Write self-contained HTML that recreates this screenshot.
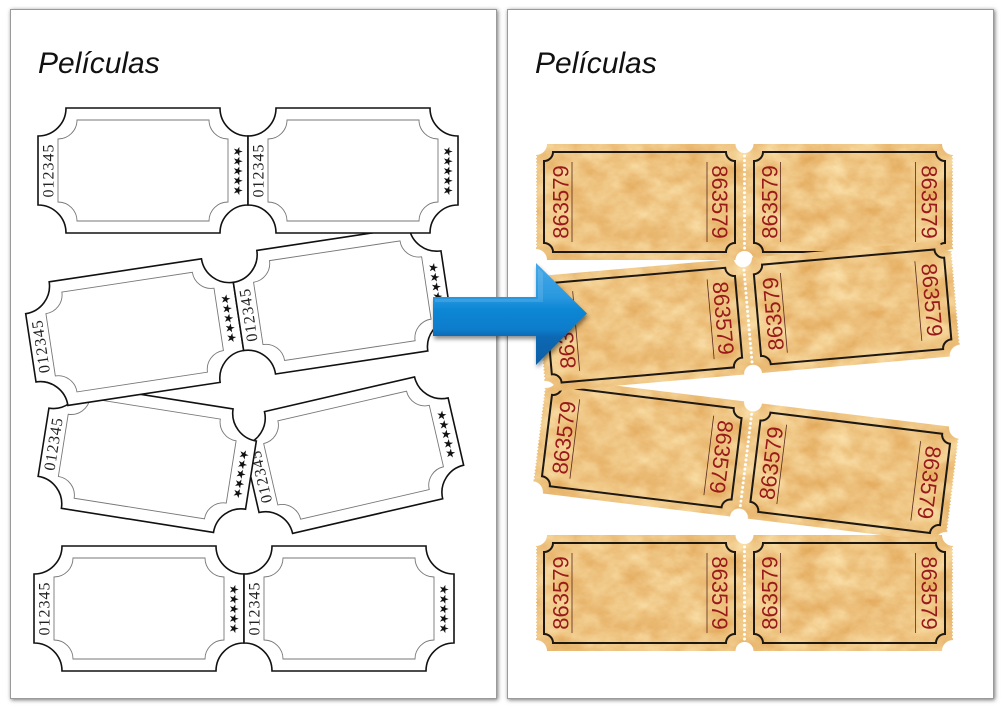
<!DOCTYPE html>
<html>
<head>
<meta charset="utf-8">
<style>
  html,body{margin:0;padding:0;background:#fff;}
  body{width:1005px;height:710px;position:relative;overflow:hidden;}
  .page{position:absolute;box-sizing:border-box;background:#fff;border:1px solid #9a9a9a;box-shadow:1px 1px 4px rgba(0,0,0,.55);}
  svg{position:absolute;left:0;top:0;}
  .wo{fill:#fff;stroke:#111;stroke-width:1.6;}
  .wi{fill:none;stroke:#777;stroke-width:.9;}
  .wn{font-family:"Liberation Serif",serif;font-size:16px;text-anchor:middle;letter-spacing:1px;fill:#222;}
  .ws{font-family:"DejaVu Sans",sans-serif;font-size:12px;text-anchor:middle;letter-spacing:-1px;fill:#111;}
  .gp{stroke:#fff;stroke-width:2.2;stroke-linecap:round;stroke-dasharray:0 3.3;}
  .gs{stroke:#fff;stroke-width:3;stroke-linecap:round;stroke-dasharray:0 4.6;}
  .gb{fill:none;stroke:#1e1812;stroke-width:2;}
  .gl{stroke:#5a2a20;stroke-width:.8;}
  .gn{font-family:"Liberation Sans",sans-serif;font-size:22px;fill:#981a1a;text-anchor:middle;}
  .ttl{font-family:"Liberation Sans",sans-serif;font-style:italic;font-size:30px;fill:#111;}
</style>
</head>
<body>
<div class="page" style="left:10px;top:9px;width:487px;height:690px;"></div>
<div class="page" style="left:507px;top:9px;width:487px;height:690px;"></div>

<svg width="1005" height="710" viewBox="0 0 1005 710" xmlns="http://www.w3.org/2000/svg">
<defs>
  <filter id="paper" x="0" y="0" width="1" height="1" color-interpolation-filters="sRGB">
    <feTurbulence type="fractalNoise" baseFrequency="0.035 0.05" numOctaves="4" seed="7" result="n"/>
    <feColorMatrix in="n" type="matrix" values="0.12 0 0 0 0.875  0.28 0 0 0 0.63  0.4 0 0 0 0.31  0 0 0 0 1" result="c"/>
    <feComposite in="c" in2="SourceGraphic" operator="in"/>
  </filter>
  <linearGradient id="ag" gradientUnits="userSpaceOnUse" x1="0" y1="263" x2="0" y2="365">
    <stop offset="0" stop-color="#45a9e8"/>
    <stop offset="0.33" stop-color="#2a98df"/>
    <stop offset="0.45" stop-color="#0f87d4"/>
    <stop offset="0.65" stop-color="#0a7ccb"/>
    <stop offset="0.73" stop-color="#0767b2"/>
    <stop offset="1" stop-color="#0a5fa6"/>
  </linearGradient>
  <filter id="sh" x="-10%" y="-10%" width="130%" height="140%">
    <feGaussianBlur in="SourceAlpha" stdDeviation="2"/>
    <feOffset dx="1" dy="3"/>
    <feComponentTransfer><feFuncA type="linear" slope="0.45"/></feComponentTransfer>
    <feMerge><feMergeNode/><feMergeNode in="SourceGraphic"/></feMerge>
  </filter>
</defs>

<!-- Titles -->
<text class="ttl" x="38" y="73">Películas</text>
<text class="ttl" x="535" y="73">Películas</text>

<!-- ============ LEFT PAGE (white tickets) ============ -->
<!-- Row 4 -->
<g transform="translate(34,546)">
  <g>
    <path class="wo" d="M28 0H182A28 28 0 0 0 210 28V97A28 28 0 0 0 182 125H28A28 28 0 0 0 0 97V28A28 28 0 0 0 28 0Z"/>
    <path class="wi" d="M39 12H171A19 19 0 0 0 190 31V94A19 19 0 0 0 171 113H39A19 19 0 0 0 20 94V31A19 19 0 0 0 39 12Z"/>
    <text class="wn" transform="translate(15.3 62.5) rotate(-90)">012345</text>
    <text class="ws" transform="translate(196 62.5) rotate(90)">★★★★★</text>
  </g>
  <g transform="translate(210,0)">
    <path class="wo" d="M28 0H182A28 28 0 0 0 210 28V97A28 28 0 0 0 182 125H28A28 28 0 0 0 0 97V28A28 28 0 0 0 28 0Z"/>
    <path class="wi" d="M39 12H171A19 19 0 0 0 190 31V94A19 19 0 0 0 171 113H39A19 19 0 0 0 20 94V31A19 19 0 0 0 39 12Z"/>
    <text class="wn" transform="translate(15.3 62.5) rotate(-90)">012345</text>
    <text class="ws" transform="translate(196 62.5) rotate(90)">★★★★★</text>
  </g>
</g>

<!-- Row 3 right -->
<g transform="translate(237.2,417.9) rotate(-13)">
  <path class="wo" d="M28 0H182A28 28 0 0 0 210 28V97A28 28 0 0 0 182 125H28A28 28 0 0 0 0 97V28A28 28 0 0 0 28 0Z"/>
  <path class="wi" d="M39 12H171A19 19 0 0 0 190 31V94A19 19 0 0 0 171 113H39A19 19 0 0 0 20 94V31A19 19 0 0 0 39 12Z"/>
  <text class="wn" transform="translate(15.3 62.5) rotate(-90)">012345</text>
  <text class="ws" transform="translate(196 62.5) rotate(90)">★★★★★</text>
</g>
<!-- Row 3 left -->
<g transform="translate(53.3,380.5) rotate(9)">
  <path class="wo" d="M28 0H182A28 28 0 0 0 210 28V97A28 28 0 0 0 182 125H28A28 28 0 0 0 0 97V28A28 28 0 0 0 28 0Z"/>
  <path class="wi" d="M39 12H171A19 19 0 0 0 190 31V94A19 19 0 0 0 171 113H39A19 19 0 0 0 20 94V31A19 19 0 0 0 39 12Z"/>
  <text class="wn" transform="translate(15.3 62.5) rotate(-90)">012345</text>
  <text class="ws" transform="translate(196 62.5) rotate(90)">★★★★★</text>
</g>

<!-- Row 2 -->
<g transform="translate(21.5,286) rotate(-8.6)">
  <g>
    <path class="wo" d="M28 0H182A28 28 0 0 0 210 28V97A28 28 0 0 0 182 125H28A28 28 0 0 0 0 97V28A28 28 0 0 0 28 0Z"/>
    <path class="wi" d="M39 12H171A19 19 0 0 0 190 31V94A19 19 0 0 0 171 113H39A19 19 0 0 0 20 94V31A19 19 0 0 0 39 12Z"/>
    <text class="wn" transform="translate(15.3 62.5) rotate(-90)">012345</text>
    <text class="ws" transform="translate(196 62.5) rotate(90)">★★★★★</text>
  </g>
  <g transform="translate(210,0)">
    <path class="wo" d="M28 0H182A28 28 0 0 0 210 28V97A28 28 0 0 0 182 125H28A28 28 0 0 0 0 97V28A28 28 0 0 0 28 0Z"/>
    <path class="wi" d="M39 12H171A19 19 0 0 0 190 31V94A19 19 0 0 0 171 113H39A19 19 0 0 0 20 94V31A19 19 0 0 0 39 12Z"/>
    <text class="wn" transform="translate(15.3 62.5) rotate(-90)">012345</text>
    <text class="ws" transform="translate(196 62.5) rotate(90)">★★★★★</text>
  </g>
</g>

<!-- Row 1 -->
<g transform="translate(38,108)">
  <g>
    <path class="wo" d="M28 0H182A28 28 0 0 0 210 28V97A28 28 0 0 0 182 125H28A28 28 0 0 0 0 97V28A28 28 0 0 0 28 0Z"/>
    <path class="wi" d="M39 12H171A19 19 0 0 0 190 31V94A19 19 0 0 0 171 113H39A19 19 0 0 0 20 94V31A19 19 0 0 0 39 12Z"/>
    <text class="wn" transform="translate(15.3 62.5) rotate(-90)">012345</text>
    <text class="ws" transform="translate(196 62.5) rotate(90)">★★★★★</text>
  </g>
  <g transform="translate(210,0)">
    <path class="wo" d="M28 0H182A28 28 0 0 0 210 28V97A28 28 0 0 0 182 125H28A28 28 0 0 0 0 97V28A28 28 0 0 0 28 0Z"/>
    <path class="wi" d="M39 12H171A19 19 0 0 0 190 31V94A19 19 0 0 0 171 113H39A19 19 0 0 0 20 94V31A19 19 0 0 0 39 12Z"/>
    <text class="wn" transform="translate(15.3 62.5) rotate(-90)">012345</text>
    <text class="ws" transform="translate(196 62.5) rotate(90)">★★★★★</text>
  </g>
</g>

<!-- ============ RIGHT PAGE (gold tickets) ============ -->
<!-- Row 1 -->
<g transform="translate(536,144)">
  <path fill="#eec484" filter="url(#paper)" d="M11 0H199.5A9 9 0 0 0 217.5 0H406A11 11 0 0 0 417 11V105A11 11 0 0 0 406 116H217.5A9 9 0 0 0 199.5 116H11A11 11 0 0 0 0 105V11A11 11 0 0 0 11 0Z"/>
  <line class="gp" x1="0" y1="13" x2="0" y2="104"/>
  <line class="gp" x1="417" y1="13" x2="417" y2="104"/>
  <line class="gs" x1="208.5" y1="12" x2="208.5" y2="105"/>
  <path class="gb" d="M17 8H190A9 9 0 0 0 199 17V99A9 9 0 0 0 190 108H17A9 9 0 0 0 8 99V17A9 9 0 0 0 17 8Z"/>
  <path class="gb" d="M227 8H400A9 9 0 0 0 409 17V99A9 9 0 0 0 400 108H227A9 9 0 0 0 218 99V17A9 9 0 0 0 227 8Z"/>
  <line class="gl" x1="36" y1="18" x2="36" y2="98"/>
  <line class="gl" x1="171" y1="18" x2="171" y2="98"/>
  <line class="gl" x1="244.5" y1="18" x2="244.5" y2="98"/>
  <line class="gl" x1="379.5" y1="18" x2="379.5" y2="98"/>
  <text class="gn" transform="translate(32.6 58) rotate(-90)">863579</text>
  <text class="gn" transform="translate(176.1 58) rotate(90)">863579</text>
  <text class="gn" transform="translate(241.4 58) rotate(-90)">863579</text>
  <text class="gn" transform="translate(385.6 58) rotate(90)">863579</text>
</g>

<!-- Row 4 -->
<g transform="translate(536,535)">
  <path fill="#eec484" filter="url(#paper)" d="M11 0H199.5A9 9 0 0 0 217.5 0H406A11 11 0 0 0 417 11V105A11 11 0 0 0 406 116H217.5A9 9 0 0 0 199.5 116H11A11 11 0 0 0 0 105V11A11 11 0 0 0 11 0Z"/>
  <line class="gp" x1="0" y1="13" x2="0" y2="104"/>
  <line class="gp" x1="417" y1="13" x2="417" y2="104"/>
  <line class="gs" x1="208.5" y1="12" x2="208.5" y2="105"/>
  <path class="gb" d="M17 8H190A9 9 0 0 0 199 17V99A9 9 0 0 0 190 108H17A9 9 0 0 0 8 99V17A9 9 0 0 0 17 8Z"/>
  <path class="gb" d="M227 8H400A9 9 0 0 0 409 17V99A9 9 0 0 0 400 108H227A9 9 0 0 0 218 99V17A9 9 0 0 0 227 8Z"/>
  <line class="gl" x1="36" y1="18" x2="36" y2="98"/>
  <line class="gl" x1="171" y1="18" x2="171" y2="98"/>
  <line class="gl" x1="244.5" y1="18" x2="244.5" y2="98"/>
  <line class="gl" x1="379.5" y1="18" x2="379.5" y2="98"/>
  <text class="gn" transform="translate(32.6 58) rotate(-90)">863579</text>
  <text class="gn" transform="translate(176.1 58) rotate(90)">863579</text>
  <text class="gn" transform="translate(241.4 58) rotate(-90)">863579</text>
  <text class="gn" transform="translate(385.6 58) rotate(90)">863579</text>
</g>

<!-- Row 3 -->
<g transform="translate(746,460) rotate(7) translate(-208.5,-58)">
  <path fill="#eec484" filter="url(#paper)" d="M11 0H199.5A9 9 0 0 0 217.5 0H406A11 11 0 0 0 417 11V105A11 11 0 0 0 406 116H217.5A9 9 0 0 0 199.5 116H11A11 11 0 0 0 0 105V11A11 11 0 0 0 11 0Z"/>
  <line class="gp" x1="0" y1="13" x2="0" y2="104"/>
  <line class="gp" x1="417" y1="13" x2="417" y2="104"/>
  <line class="gs" x1="208.5" y1="12" x2="208.5" y2="105"/>
  <path class="gb" d="M17 8H190A9 9 0 0 0 199 17V99A9 9 0 0 0 190 108H17A9 9 0 0 0 8 99V17A9 9 0 0 0 17 8Z"/>
  <path class="gb" d="M227 8H400A9 9 0 0 0 409 17V99A9 9 0 0 0 400 108H227A9 9 0 0 0 218 99V17A9 9 0 0 0 227 8Z"/>
  <line class="gl" x1="36" y1="18" x2="36" y2="98"/>
  <line class="gl" x1="171" y1="18" x2="171" y2="98"/>
  <line class="gl" x1="244.5" y1="18" x2="244.5" y2="98"/>
  <line class="gl" x1="379.5" y1="18" x2="379.5" y2="98"/>
  <text class="gn" transform="translate(32.6 58) rotate(-90)">863579</text>
  <text class="gn" transform="translate(176.1 58) rotate(90)">863579</text>
  <text class="gn" transform="translate(241.4 58) rotate(-90)">863579</text>
  <text class="gn" transform="translate(385.6 58) rotate(90)">863579</text>
</g>

<!-- Row 2 -->
<g transform="translate(748,316) rotate(-5) translate(-208.5,-58)">
  <path fill="#eec484" filter="url(#paper)" d="M11 0H199.5A9 9 0 0 0 217.5 0H406A11 11 0 0 0 417 11V105A11 11 0 0 0 406 116H217.5A9 9 0 0 0 199.5 116H11A11 11 0 0 0 0 105V11A11 11 0 0 0 11 0Z"/>
  <line class="gp" x1="0" y1="13" x2="0" y2="104"/>
  <line class="gp" x1="417" y1="13" x2="417" y2="104"/>
  <line class="gs" x1="208.5" y1="12" x2="208.5" y2="105"/>
  <path class="gb" d="M17 8H190A9 9 0 0 0 199 17V99A9 9 0 0 0 190 108H17A9 9 0 0 0 8 99V17A9 9 0 0 0 17 8Z"/>
  <path class="gb" d="M227 8H400A9 9 0 0 0 409 17V99A9 9 0 0 0 400 108H227A9 9 0 0 0 218 99V17A9 9 0 0 0 227 8Z"/>
  <line class="gl" x1="36" y1="18" x2="36" y2="98"/>
  <line class="gl" x1="171" y1="18" x2="171" y2="98"/>
  <line class="gl" x1="244.5" y1="18" x2="244.5" y2="98"/>
  <line class="gl" x1="379.5" y1="18" x2="379.5" y2="98"/>
  <text class="gn" transform="translate(32.6 58) rotate(-90)">863579</text>
  <text class="gn" transform="translate(176.1 58) rotate(90)">863579</text>
  <text class="gn" transform="translate(241.4 58) rotate(-90)">863579</text>
  <text class="gn" transform="translate(385.6 58) rotate(90)">863579</text>
</g>

<!-- Arrow -->
<path d="M433 297H536V263L587 313.5L536 365V336H433Z" fill="url(#ag)" filter="url(#sh)"/>
<path d="M435 299H538V268L543 273V302H435Z" fill="#ffffff" opacity="0.12"/>
</svg>
</body>
</html>
